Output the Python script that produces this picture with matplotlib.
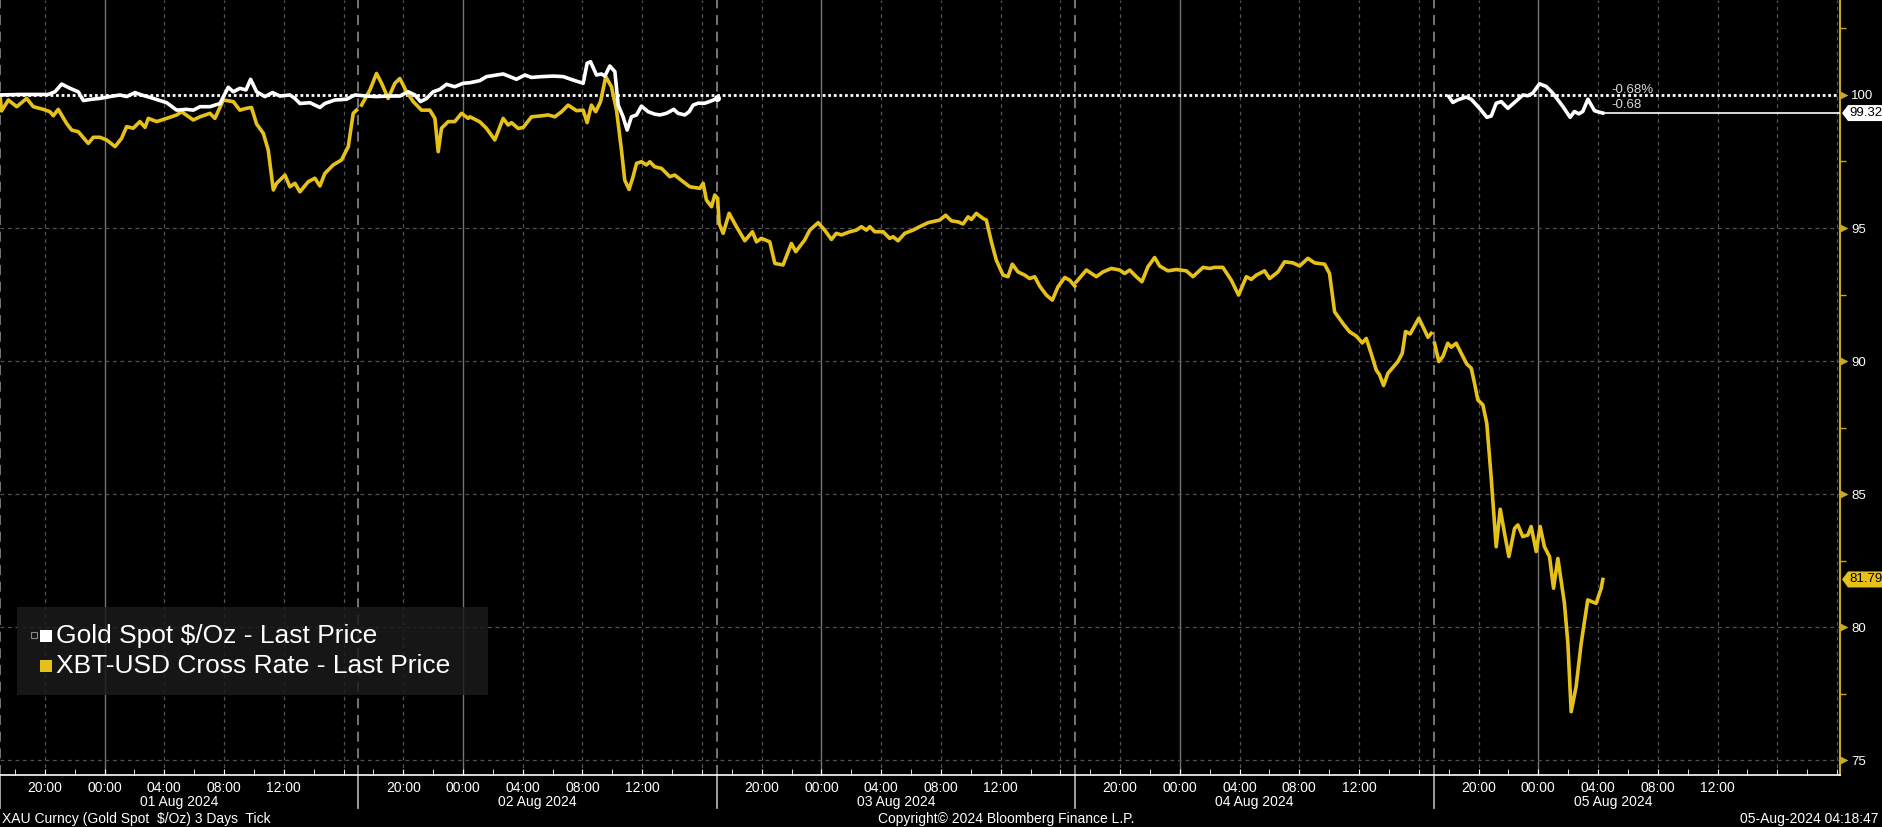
import numpy as np
import pandas as pd
import matplotlib
matplotlib.use('Agg')
import matplotlib.pyplot as plt
from matplotlib.patches import Rectangle, Polygon

# hours since session start (31 Jul 2024 17:00), values indexed to 100
start = pd.Timestamp('2024-07-31 17:00')

btc_hours = [0, 0.1, 0.56, 1.12, 1.78, 2.23, 2.90, 3.35, 3.57, 3.90, 4.46, 4.80, 5.24, 5.91, 6.25,
             6.69, 7.14, 7.70, 8.14, 8.48, 8.92, 9.37, 9.71, 9.93, 10.49, 11.16, 11.83, 12.16, 12.94,
             13.39, 14.06, 14.39, 14.95, 15.62, 16.06, 16.51, 16.84, 17.18, 17.63, 17.96, 18.30, 18.52,
             19.08, 19.41, 19.75, 20.08, 20.64, 21.08, 21.42, 21.75, 22.31, 22.87, 23.32, 23.65, 23.87,
             24.21, 24.77, 25.21, 25.55, 25.99, 26.44, 26.77, 27.22, 27.67, 28.22, 28.78, 29.12, 29.34,
             29.56, 30.01, 30.45, 30.90, 31.35, 31.46, 32.13, 32.58, 33.13, 33.69, 34.03, 34.25, 34.70,
             35.03, 35.59, 36.15, 36.70, 37.15, 37.60, 38.04, 38.60, 39.05, 39.31, 39.60, 39.89, 40.21,
             40.56, 40.94, 41.28, 41.61, 41.83, 42.12, 42.39, 42.62, 42.95, 43.28, 43.51, 43.84, 44.29,
             44.85, 45.18, 45.74, 46.19, 46.86, 47.08, 47.30, 47.64, 47.86, 47.95, 48.05, 48.15, 48.42,
             48.82, 49.31, 49.87, 50.38, 50.65, 50.98, 51.54, 51.88, 52.43, 52.99, 53.28, 53.88, 54.22,
             54.78, 55.22, 55.67, 56.00, 56.34, 56.90, 57.34, 57.68, 58.01, 58.24, 58.57, 59.13, 59.57,
             59.80, 60.13, 60.58, 61.13, 61.58, 62.14, 62.92, 63.32, 63.70, 64.15, 64.48, 64.82, 65.04,
             65.37, 65.82, 66.04, 66.38, 66.71, 67.16, 67.49, 67.78, 68.16, 68.61, 68.94, 69.28, 69.61,
             70.06, 70.46, 70.84, 71.29, 71.62, 71.96, 72.07, 72.74, 73.41, 73.85, 74.41, 74.97, 75.30,
             75.64, 76.08, 76.46, 76.86, 77.31, 77.65, 78.20, 78.76, 79.43, 79.88, 80.55, 80.99, 81.33,
             81.88, 82.44, 82.93, 83.45, 83.78, 84.12, 84.67, 85.01, 85.57, 86.01, 86.57, 87.02, 87.57,
             88.02, 88.69, 89.02, 89.36, 89.92, 90.36, 90.81, 91.21, 91.48, 91.81, 92.15, 92.37, 92.64,
             92.93, 93.60, 93.89, 94.11, 94.42, 95.00, 95.38, 95.61, 95.83, 96.05, 96.34, 96.61, 96.94,
             97.17, 97.50, 97.84, 98.21, 98.51, 98.73, 98.95, 99.29, 99.55, 99.84, 100.18, 100.45,
             100.74, 101.03, 101.41, 101.63, 101.96, 102.30, 102.52, 102.86, 103.12, 103.41, 103.75,
             104.02, 104.31, 104.75, 104.98, 105.20, 105.53, 105.87, 106.31, 106.87, 107.21, 107.32]
btc_values = [100.0, 99.4, 99.81, 99.56, 99.87, 99.56, 99.46, 99.37, 99.22, 99.46, 98.93, 98.68, 98.62,
              98.18, 98.41, 98.41, 98.31, 98.06, 98.37, 98.81, 98.75, 99.00, 98.78, 99.12, 99.00, 99.12,
              99.25, 99.37, 99.06, 99.18, 99.31, 99.12, 99.81, 99.75, 99.43, 99.50, 99.53, 98.91, 98.56,
              97.93, 96.43, 96.68, 96.99, 96.55, 96.68, 96.36, 96.74, 96.87, 96.58, 97.05, 97.37, 97.56,
              98.06, 99.31, 99.43, 99.62, 100.19, 100.81, 100.44, 99.87, 100.44, 100.62, 100.12, 99.75,
              99.43, 99.43, 99.12, 97.87, 98.75, 99.00, 99.00, 99.31, 99.12, 99.18, 98.99, 98.74, 98.31,
              99.12, 98.87, 98.96, 98.74, 98.78, 99.18, 99.21, 99.25, 99.18, 99.37, 99.62, 99.41, 99.43,
              98.96, 99.62, 99.37, 99.75, 100.69, 100.31, 99.43, 97.93, 96.80, 96.45, 96.93, 97.43,
              97.49, 97.37, 97.49, 97.30, 97.24, 96.93, 96.99, 96.74, 96.55, 96.49, 96.68, 96.05, 95.80,
              96.24, 96.18, 96.10, 95.17, 94.80, 95.55, 95.05, 94.52, 94.86, 94.48, 94.61, 94.48, 93.67,
              93.61, 94.42, 94.11, 94.55, 94.92, 95.20, 94.92, 94.57, 94.80, 94.74, 94.86, 94.92, 95.05,
              94.92, 95.05, 94.86, 94.86, 94.61, 94.67, 94.52, 94.80, 94.92, 95.05, 95.20, 95.30, 95.48,
              95.27, 95.23, 95.15, 95.42, 95.32, 95.55, 95.36, 95.30, 94.48, 93.79, 93.23, 93.17, 93.64,
              93.35, 93.23, 93.10, 93.17, 92.82, 92.48, 92.29, 92.79, 93.14, 93.04, 92.82, 92.98, 93.42,
              93.17, 93.35, 93.48, 93.42, 93.29, 93.42, 93.17, 92.98, 93.54, 93.89, 93.57, 93.39, 93.44,
              93.39, 93.17, 93.52, 93.48, 93.52, 93.52, 93.04, 92.48, 93.17, 93.07, 93.23, 93.39, 93.10,
              93.35, 93.73, 93.69, 93.57, 93.86, 93.69, 93.64, 93.29, 91.85, 91.41, 91.10, 90.94, 90.68,
              90.85, 90.28, 89.66, 89.48, 89.08, 89.54, 89.98, 90.29, 91.11, 91.02, 91.61, 91.17, 90.89,
              91.04, 90.67, 89.98, 90.17, 90.67, 90.52, 90.67, 90.29, 89.89, 89.73, 89.16, 88.54, 88.35,
              87.66, 85.65, 83.02, 84.43, 83.52, 82.65, 83.71, 83.84, 83.40, 83.46, 83.78, 82.84, 83.78,
              83.02, 82.65, 81.46, 82.58, 80.89, 79.39, 76.82, 77.76, 79.39, 81.02, 80.89, 81.46, 81.79]

gold_hours = [0, 1.34, 3.24, 3.68, 4.13, 4.69, 5.24, 5.58, 6.14, 6.69, 7.36, 8.03, 8.48, 9.04, 9.48,
              10.04, 10.71, 11.16, 11.83, 12.49, 12.94, 13.39, 14.06, 14.73, 15.28, 15.62, 16.06, 16.47,
              16.78, 17.18, 17.74, 18.25, 18.74, 19.41, 19.75, 20.08, 20.75, 21.42, 21.75, 22.42, 23.20,
              23.76, 24.54, 25.21, 25.99, 26.77, 27.33, 27.78, 28.16, 28.56, 29.00, 29.45, 29.90, 30.45,
              31.01, 31.46, 32.13, 32.58, 33.69, 34.14, 34.58, 35.14, 35.59, 36.26, 37.04, 37.71, 38.38,
              39.05, 39.31, 39.54, 39.94, 40.27, 40.50, 40.83, 41.17, 41.39, 41.72, 41.99, 42.28, 42.62,
              42.95, 43.40, 43.84, 44.18, 44.62, 45.11, 45.40, 45.85, 46.14, 46.41, 46.74, 47.19, 47.64,
              48.00, 97.01, 97.28, 97.61, 98.17, 98.51, 99.06, 99.56, 99.85, 100.18, 100.52, 100.96,
              101.41, 101.97, 102.30, 102.63, 103.08, 103.53, 103.97, 104.64, 105.13, 105.42, 105.71,
              105.98, 106.32, 106.76, 107.10, 107.32]
gold_values = [100.0, 100.02, 100.02, 100.12, 100.41, 100.25, 100.12, 99.79, 99.84, 99.87, 99.94, 100.00,
               99.94, 100.09, 100.00, 99.91, 99.79, 99.71, 99.43, 99.46, 99.43, 99.56, 99.56, 99.68,
               100.29, 100.12, 100.25, 100.19, 100.59, 100.12, 99.94, 100.09, 99.96, 100.00, 99.87, 99.68,
               99.71, 99.53, 99.68, 99.81, 99.84, 100.00, 99.96, 99.94, 99.96, 99.96, 100.12, 100.00,
               99.75, 99.87, 100.12, 100.21, 100.40, 100.31, 100.44, 100.46, 100.54, 100.69, 100.79,
               100.69, 100.59, 100.75, 100.66, 100.69, 100.71, 100.69, 100.56, 100.44, 101.19, 101.25,
               100.75, 100.79, 100.71, 101.09, 100.88, 99.62, 99.18, 98.68, 99.18, 99.25, 99.58, 99.37,
               99.28, 99.25, 99.31, 99.46, 99.31, 99.25, 99.37, 99.62, 99.69, 99.69, 99.78, 99.87, 99.94,
               99.72, 99.82, 99.92, 99.84, 99.50, 99.16, 99.21, 99.69, 99.75, 99.50, 99.72, 100.00, 99.97,
               100.07, 100.42, 100.32, 100.07, 99.57, 99.16, 99.38, 99.29, 99.38, 99.84, 99.41, 99.35,
               99.32]

y_ticks = [75, 80, 85, 90, 95, 100]
hour_labels = ['20:00', '00:00', '04:00', '08:00', '12:00']
day_labels = ['01 Aug 2024', '02 Aug 2024', '03 Aug 2024', '04 Aug 2024', '05 Aug 2024']
gold_last, btc_last = 99.32, 81.79
gold_chg = '-0.68'

YELLOW = '#e6c11a'
AXGOLD = '#c9a822'

plt.rcParams['font.family'] = ['Liberation Sans', 'DejaVu Sans']

fig = plt.figure(figsize=(18.83, 8.27), dpi=100, facecolor='black')
ax = fig.add_axes([0, 52 / 827, 1840 / 1883, 775 / 827])
ax.set_facecolor('black')

x_end = start + pd.Timedelta(hours=123.2)
ax.set_xlim(start, x_end)
ax.set_ylim(74.44, 103.57)

hrs = lambda h: start + pd.to_timedelta(np.asarray(h), unit='h')

# grid
for t in pd.date_range('2024-07-31 20:00', '2024-08-05 20:00', freq='4h'):
    if t.hour == 0:
        ax.axvline(t, color='#747474', lw=1, zorder=1)
    else:
        ax.axvline(t, color='#525252', lw=0.9, ls=(0, (3, 3)), zorder=1)
for v in y_ticks[:-1]:
    ax.axhline(v, color='#525252', lw=0.9, ls=(0, (3, 3)), zorder=1)
ax.axhline(100, color='white', lw=2, ls=(0, (1, 1)), zorder=2)

# session separators
xt = ax.get_xaxis_transform()
for t in pd.date_range('2024-07-31 17:00', '2024-08-04 17:00', freq='D'):
    ax.axvline(t, color='#8a8a8a', lw=1.2, ls=(0, (6, 4)), zorder=1)
    ax.plot([t, t], [0, -0.043], transform=xt, color='#bbbbbb', lw=1.2, clip_on=False)

# series
bh = np.array(btc_hours)
bv = np.array(btc_values)
sess = np.floor(bh / 24)
for s in np.unique(sess):
    m = sess == s
    ax.plot(hrs(bh[m]), bv[m], color=YELLOW, lw=2.6, zorder=4, solid_joinstyle='round')

gh = np.array(gold_hours)
gv = np.array(gold_values)
for m in [gh < 72, gh >= 72]:
    ax.plot(hrs(gh[m]), gv[m], color='white', lw=2.6, zorder=5, solid_joinstyle='round')
ax.plot(hrs(gh[gh < 72][-1:]), gv[gh < 72][-1:], 'o', color='white', ms=4, zorder=5)

# last price line for gold
ax.plot([hrs(gh[-1]), x_end], [gold_last, gold_last], color='white', lw=1.2, zorder=5)
ax.text(hrs(107.9), 100.19, gold_chg + '%', color='#d8d8d8', fontsize=9.5, va='center', zorder=6)
ax.text(hrs(107.9), 99.62, gold_chg, color='#d8d8d8', fontsize=9.5, va='center', zorder=6)

# spines
for sp in ['top', 'left']:
    ax.spines[sp].set_visible(False)
ax.spines['bottom'].set_color('white')
ax.spines['bottom'].set_linewidth(1.2)
ax.spines['right'].set_color(AXGOLD)
ax.spines['right'].set_linewidth(1.5)

# x ticks
major = [start + pd.Timedelta(hours=24 * k + o) for k in range(5) for o in (3, 7, 11, 15, 19)]
ax.set_xticks(major)
ax.set_xticklabels(hour_labels * 5)
ax.set_xticks(pd.date_range('2024-07-31 18:00', '2024-08-05 20:00', freq='2h'), minor=True)
ax.tick_params(axis='x', which='both', direction='in', length=4, color='white',
               labelcolor='white', labelsize=10, pad=4)
for k, lab in enumerate(day_labels):
    ax.text(start + pd.Timedelta(hours=24 * k + 12), -0.035, lab, transform=xt,
            ha='center', va='center', color='white', fontsize=10)

# y ticks
ax.yaxis.tick_right()
ax.set_yticks(y_ticks)
ax.set_yticks(np.arange(77.5, 103, 5), minor=True)
ax.tick_params(axis='y', which='major', length=0, pad=8, labelcolor='white', labelsize=9.5)
ax.tick_params(axis='y', which='minor', length=4, width=1, color=AXGOLD, direction='out')
yt = ax.get_yaxis_transform()
ax.scatter([1 + 4 / 1840] * len(y_ticks), y_ticks, marker='>', s=34, color=AXGOLD,
           transform=yt, clip_on=False, zorder=6, linewidths=0)

# last value tags
def tag(y, text, fc, tc):
    h = 8 / 26.6
    x0 = 1 + 2 / 1840
    pts = [(x0, y), (x0 + 6 / 1840, y + h), (x0 + 45 / 1840, y + h),
           (x0 + 45 / 1840, y - h), (x0 + 6 / 1840, y - h)]
    ax.add_patch(Polygon(pts, closed=True, fc=fc, ec='none', transform=yt, clip_on=False, zorder=7))
    ax.text(x0 + 7 / 1840, y, text, color=tc, fontsize=9.5, va='center', ha='left',
            transform=yt, clip_on=False, zorder=8)

tag(gold_last, f'{gold_last:.2f}', 'white', 'black')
tag(btc_last, f'{btc_last:.2f}', YELLOW, 'black')

# legend box
ta = ax.transAxes
ax.add_patch(Rectangle((17 / 1840, 80 / 775), 471 / 1840, 88 / 775, transform=ta,
                       fc='#1b1b1b', ec='none', alpha=0.85, zorder=8))
ax.add_patch(Rectangle((31 / 1840, 137 / 775), 6 / 1840, 6 / 775, transform=ta,
                       fc='none', ec='#888888', lw=0.8, zorder=9))
ax.add_patch(Rectangle((40 / 1840, 133 / 775), 12 / 1840, 12 / 775, transform=ta,
                       fc='white', ec='none', zorder=9))
ax.add_patch(Rectangle((40 / 1840, 103 / 775), 12 / 1840, 12 / 775, transform=ta,
                       fc=YELLOW, ec='none', zorder=9))
ax.text(56 / 1840, 139 / 775, 'Gold Spot $/Oz - Last Price', transform=ta, color='white',
        fontsize=19, va='center', zorder=9)
ax.text(56 / 1840, 109 / 775, 'XBT-USD Cross Rate - Last Price', transform=ta, color='white',
        fontsize=19, va='center', zorder=9)

# footer
fig.text(2 / 1883, 8 / 827, 'XAU Curncy (Gold Spot  $/Oz) 3 Days  Tick', color='white',
         fontsize=10, va='center')
fig.text(1006 / 1883, 8 / 827, 'Copyright\u00a9 2024 Bloomberg Finance L.P.', color='white',
         fontsize=10, va='center', ha='center')
fig.text(1879 / 1883, 8 / 827, '05-Aug-2024 04:18:47', color='white', fontsize=10,
         va='center', ha='right')

fig.savefig('out.png', dpi=100, facecolor='black')
